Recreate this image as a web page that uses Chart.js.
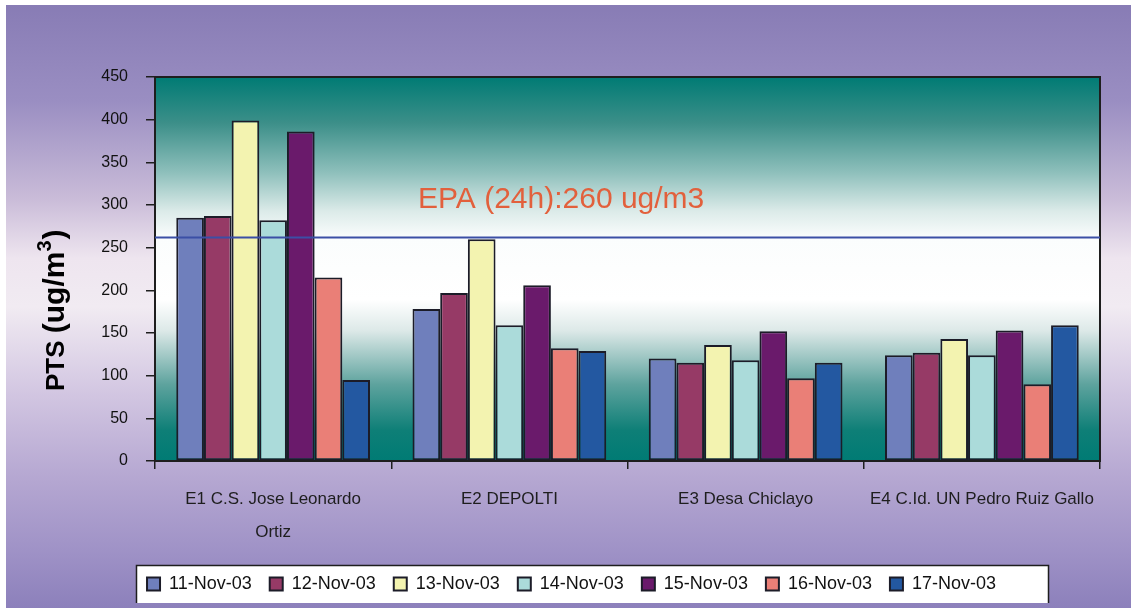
<!DOCTYPE html>
<html>
<head>
<meta charset="utf-8">
<script src="https://cdn.jsdelivr.net/npm/chart.js@4/dist/chart.umd.min.js"></script>
<style>
  html, body { margin: 0; padding: 0; background: #fff; overflow: hidden; }
  #wrap { width: 1131px; height: 608px; }
</style>
</head>
<body>
<div id="wrap"><canvas id="pts-chart" width="1131" height="608"></canvas></div>
<script>
// estaciones (categorias)
const STATIONS = [
  ['E1 C.S. Jose Leonardo', 'Ortiz'],
  'E2 DEPOLTI',
  'E3 Desa Chiclayo',
  'E4 C.Id. UN Pedro Ruiz Gallo'
];
const DATES = ['11-Nov-03', '12-Nov-03', '13-Nov-03', '14-Nov-03', '15-Nov-03', '16-Nov-03', '17-Nov-03'];

// PTS (ug/m3) por dia, un valor por estacion
const PTS_11 = [285, 178, 120, 124];
const PTS_12 = [287, 197, 115, 127];
const PTS_13 = [399, 260, 136, 143];
const PTS_14 = [282, 159, 118, 124];
const PTS_15 = [386, 206, 152, 153];
const PTS_16 = [215, 132, 97, 90];
const PTS_17 = [95, 129, 115, 159];

const Y_TICKS = [0, 50, 100, 150, 200, 250, 300, 350, 400, 450];
const EPA_LIMIT = 262;
const EPA_LABEL = 'EPA (24h):260 ug/m3';

const BAR_COLORS = ['#6f7fbc', '#963a66', '#f3f3b0', '#abdbda', '#6a1a6b', '#ea7f77', '#2358a1'];
const FONT = "'Liberation Sans', Arial, sans-serif";
const INK = '#1e1e1e';

const series = [PTS_11, PTS_12, PTS_13, PTS_14, PTS_15, PTS_16, PTS_17];

// fondos, linea EPA, titulo del eje
const decor = {
  id: 'decor',
  beforeDraw(chart) {
    const { ctx, width, height, chartArea: a } = chart;
    ctx.save();
    ctx.fillStyle = '#fff';
    ctx.fillRect(0, 0, width, height);

    const bg = ctx.createLinearGradient(0, 5, 0, height);
    bg.addColorStop(0, '#887cb5');
    bg.addColorStop(0.16, '#9a8ec2');
    bg.addColorStop(0.32, '#c9bbd8');
    bg.addColorStop(0.42, '#eee5ef');
    bg.addColorStop(0.5, '#f1ebf2');
    bg.addColorStop(0.64, '#d3c7e2');
    bg.addColorStop(0.78, '#b6a8d2');
    bg.addColorStop(0.9, '#a093c7');
    bg.addColorStop(1, '#8c80bb');
    ctx.fillStyle = bg;
    ctx.fillRect(6, 5, width - 6, height - 5);

    // area de trazado: verde azulado -> blanco -> verde azulado
    const pg = ctx.createLinearGradient(0, a.top, 0, a.bottom);
    pg.addColorStop(0, '#007b74');
    pg.addColorStop(0.12, '#3c8f89');
    pg.addColorStop(0.25, '#8fc0bc');
    pg.addColorStop(0.35, '#dcebe9');
    pg.addColorStop(0.42, '#fbfdfd');
    pg.addColorStop(0.58, '#ffffff');
    pg.addColorStop(0.66, '#dde9e8');
    pg.addColorStop(0.8, '#5ea39e');
    pg.addColorStop(0.92, '#0e7f77');
    pg.addColorStop(1, '#007b74');
    ctx.fillStyle = pg;
    ctx.fillRect(a.left, a.top, a.right - a.left, a.bottom - a.top);

    // caja de la leyenda (cortada abajo)
    ctx.fillStyle = '#fff';
    ctx.fillRect(136, 565, 912, 38);
    ctx.strokeStyle = INK;
    ctx.lineWidth = 1.5;
    ctx.beginPath();
    ctx.moveTo(136.5, 603);
    ctx.lineTo(136.5, 565.5);
    ctx.lineTo(1048.5, 565.5);
    ctx.lineTo(1048.5, 603);
    ctx.stroke();
    ctx.restore();
  },
  afterDatasetsDraw(chart) {
    const { ctx, chartArea: a, scales: { y } } = chart;
    const py = Math.round(y.getPixelForValue(EPA_LIMIT)) + 0.5;
    ctx.save();
    ctx.strokeStyle = '#3b4fa5';
    ctx.lineWidth = 2;
    ctx.beginPath();
    ctx.moveTo(a.left, py);
    ctx.lineTo(a.right, py);
    ctx.stroke();

    ctx.fillStyle = '#e2603c';
    ctx.font = '30px ' + FONT;
    ctx.textAlign = 'left';
    ctx.textBaseline = 'alphabetic';
    ctx.fillText(EPA_LABEL, a.left + 263, py - 30);

    // borde superior del area
    ctx.strokeStyle = INK;
    ctx.lineWidth = 2;
    ctx.beginPath();
    ctx.moveTo(a.left, a.top);
    ctx.lineTo(a.right, a.top);
    ctx.stroke();
    ctx.restore();
  },
  afterDraw(chart) {
    const { ctx } = chart;
    ctx.save();
    ctx.translate(64, 391);
    ctx.rotate(-Math.PI / 2);
    ctx.fillStyle = '#000';
    ctx.textBaseline = 'alphabetic';
    ctx.textAlign = 'left';
    let x = 0;
    ctx.font = 'bold 26px ' + FONT;
    ctx.fillText('PTS ', x, 0);
    x += ctx.measureText('PTS ').width;
    ctx.font = 'bold 30px ' + FONT;
    ctx.fillText('(ug/m', x, 0);
    x += ctx.measureText('(ug/m').width;
    ctx.font = 'bold 20px ' + FONT;
    ctx.fillText('3', x, -13);
    x += ctx.measureText('3').width + 1;
    ctx.font = 'bold 30px ' + FONT;
    ctx.fillText(')', x, 0);
    ctx.restore();
  }
};

new Chart(document.getElementById('pts-chart'), {
  type: 'bar',
  data: {
    labels: STATIONS,
    datasets: DATES.map((d, i) => ({
      label: d,
      data: series[i],
      backgroundColor: BAR_COLORS[i],
      borderColor: '#1c1c28',
      borderWidth: 2,
      borderSkipped: false,
      categoryPercentage: 0.82,
      barPercentage: 1.0
    }))
  },
  options: {
    responsive: false,
    animation: false,
    layout: { padding: { top: 77, bottom: 5, left: 12, right: 0 } },
    plugins: {
      tooltip: { enabled: false },
      legend: {
        position: 'bottom',
        labels: {
          boxWidth: 13,
          boxHeight: 13,
          padding: 18,
          color: '#111',
          font: { family: FONT, size: 18 }
        }
      }
    },
    scales: {
      x: {
        grid: { display: true, drawOnChartArea: false, tickLength: 8, color: INK, lineWidth: 1.5, offset: true },
        border: { display: true, color: INK, width: 2 },
        ticks: { color: INK, font: { family: FONT, size: 17, lineHeight: 1.95 }, padding: 14, maxRotation: 0, autoSkip: false },
        afterFit(s) { s.height = 96; }
      },
      y: {
        min: 0,
        max: 450,
        afterBuildTicks(s) { s.ticks = Y_TICKS.map(v => ({ value: v })); },
        grid: { display: true, drawOnChartArea: false, tickLength: 9, color: INK, lineWidth: 1.5 },
        border: { display: true, color: INK, width: 2 },
        ticks: { color: '#111', font: { family: FONT, size: 16 }, padding: 18 },
        afterFit(s) { s.width = 143; }
      },
      y2: {
        position: 'right',
        min: 0,
        max: 450,
        grid: { display: true, drawOnChartArea: false, drawTicks: false },
        border: { display: true, color: INK, width: 2 },
        ticks: { display: false },
        afterFit(s) { s.width = 31; }
      }
    }
  },
  plugins: [decor]
});
</script>
</body>
</html>
